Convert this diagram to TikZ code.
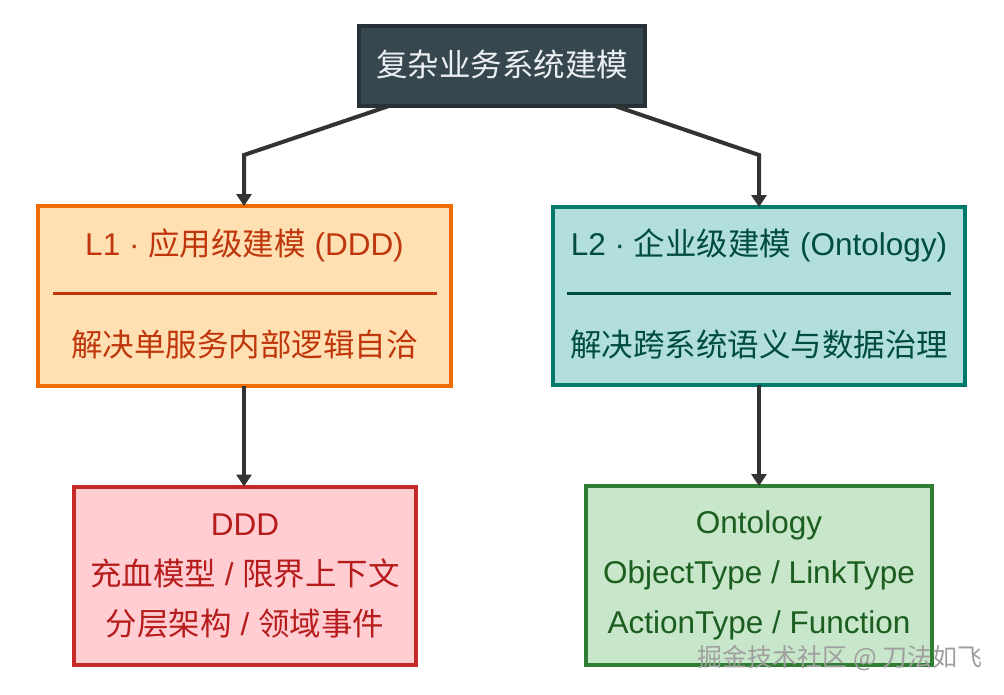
\documentclass[tikz,border=0pt]{standalone}
\usepackage{fontspec}
\setmainfont{Liberation Sans}
\newfontfamily\cjk{Noto Sans CJK SC}
\usetikzlibrary{arrows.meta}
\definecolor{topfill}{HTML}{37474F}
\definecolor{topdraw}{HTML}{263238}
\definecolor{toptext}{HTML}{ECEFF1}
\definecolor{lafill}{HTML}{FFE0B2}
\definecolor{ladraw}{HTML}{EF6C00}
\definecolor{latext}{HTML}{BF360C}
\definecolor{lbfill}{HTML}{B2DFDB}
\definecolor{lbdraw}{HTML}{00796B}
\definecolor{lbtext}{HTML}{004D40}
\definecolor{dfill}{HTML}{FFCDD2}
\definecolor{ddraw}{HTML}{C62828}
\definecolor{dtext}{HTML}{B71C1C}
\definecolor{ofill}{HTML}{C8E6C9}
\definecolor{odraw}{HTML}{2E7D32}
\definecolor{otext}{HTML}{1B5E20}
\definecolor{conn}{HTML}{333333}
\tikzset{
  boxshape/.style={rectangle, line width=4pt, inner sep=0pt, outer sep=0pt},
  txt/.style={inner sep=0pt, font=\fontsize{31.5}{38}\selectfont},
  link/.style={conn, line width=4pt, -{Triangle[width=15pt,length=12pt]}},
}
\begin{document}
\begin{tikzpicture}[x=1pt,y=-1pt]
\useasboundingbox[fill=white] (0,0) rectangle (1004,694);
% boxes
\node[boxshape, fill=topfill, draw=topdraw, minimum width=286pt, minimum height=80pt] (top) at (502,66) {};
\node[boxshape, fill=lafill, draw=ladraw, minimum width=413pt, minimum height=180pt] (la) at (244.5,296) {};
\node[boxshape, fill=lbfill, draw=lbdraw, minimum width=412pt, minimum height=178pt] (lb) at (759,296) {};
\node[boxshape, fill=dfill, draw=ddraw, minimum width=342pt, minimum height=178pt] (dd) at (245,575.5) {};
\node[boxshape, fill=ofill, draw=odraw, minimum width=346pt, minimum height=179pt] (on) at (759,575.5) {};
% texts
\node[txt, text=toptext] (toplabel) at (502,64) {\cjk 复杂业务系统建模};
\node[txt, text=latext] (latitle) at (244.5,245) {L1 · {\cjk 应用级建模} (DDD)};
\coordinate (las1) at (53,293);
\coordinate (las2) at (437,293);
\draw[latext, line width=3pt] (las1) -- (las2);
\node[txt, text=latext] (lasub) at (244.5,345) {\cjk 解决单服务内部逻辑自洽};
\node[txt, text=lbtext] (lbtitle) at (759,245) {L2 · {\cjk 企业级建模} (Ontology)};
\coordinate (lbs1) at (567,293);
\coordinate (lbs2) at (951,293);
\draw[lbtext, line width=3pt] (lbs1) -- (lbs2);
\node[txt, text=lbtext] (lbsub) at (759,345) {\cjk 解决跨系统语义与数据治理};
\node[txt, text=dtext] (d1) at (245,525) {DDD};
\node[txt, text=dtext] (d2) at (245,574) {{\cjk 充血模型} / {\cjk 限界上下文}};
\node[txt, text=dtext] (d3) at (245,624) {{\cjk 分层架构} / {\cjk 领域事件}};
\node[txt, text=otext] (o1) at (759,525) {Ontology};
\node[txt, text=otext] (o2) at (759,575) {ObjectType / LinkType};
\node[txt, text=otext] (o3) at (759,625) {ActionType / Function};
% connectors
\coordinate (ta) at (244,155);
\coordinate (tb) at (759,155);
\draw[link] (top.south west) ++(30,0) coordinate (tl) -- (ta) -- (la.north -| ta);
\draw[link] (top.south east) ++(-30,0) coordinate (tr) -- (tb) -- (lb.north -| tb);
\draw[link] (la.south -| ta) -- (dd.north -| ta);
\draw[link] (lb.south -| tb) -- (on.north -| tb);
% watermark
\node[inner sep=0pt, anchor=east, text=gray!75, font=\cjk\fontsize{25}{30}\selectfont] (wm) at (983,658) {掘金技术社区 @ 刀法如飞};
\end{tikzpicture}
\end{document}
